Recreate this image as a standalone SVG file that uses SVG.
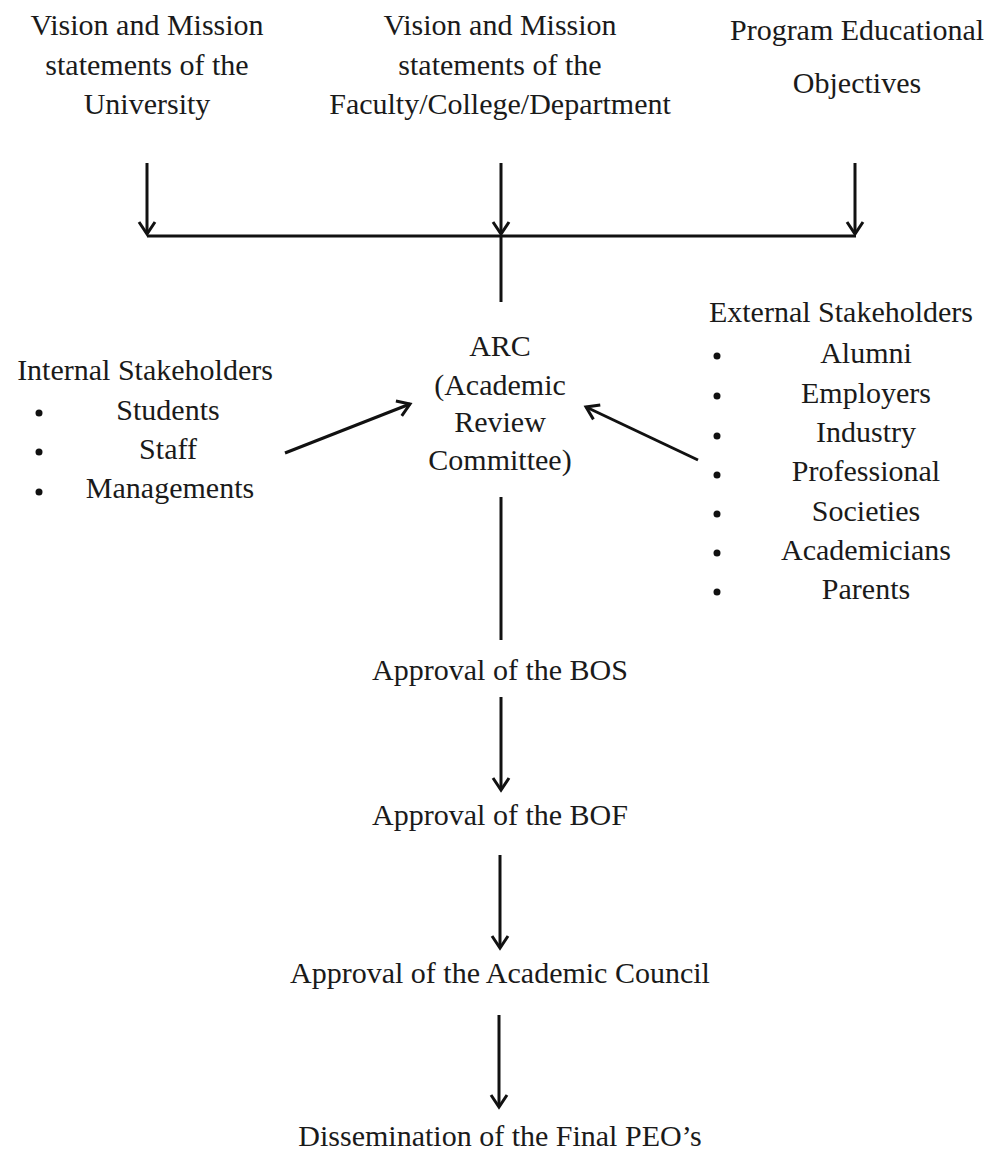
<svg xmlns="http://www.w3.org/2000/svg" width="993" height="1156" viewBox="0 0 993 1156">
<style>
text{font-family:"Liberation Serif","Times New Roman",serif;font-size:30px;fill:#1a1a1a;text-anchor:middle}
.c{stroke:#111;stroke-width:3;fill:none}
.b{fill:#111}
</style>
<defs>
<marker id="ah" viewBox="0 0 20 20" refX="17" refY="10" markerWidth="20" markerHeight="20" markerUnits="userSpaceOnUse" orient="auto">
<path d="M5,2 L17,10 L5,18" fill="none" stroke="#111" stroke-width="3"/>
</marker>
</defs>
<rect width="993" height="1156" fill="#fff"/>
<g id="n-univ">
<text x="147" y="35">Vision and Mission</text>
<text x="147" y="75">statements of the</text>
<text x="147" y="114">University</text>
</g>
<g id="n-faculty">
<text x="500" y="35">Vision and Mission</text>
<text x="500" y="75">statements of the</text>
<text x="500" y="114">Faculty/College/Department</text>
</g>
<g id="n-peo">
<text x="857" y="40">Program Educational</text>
<text x="857" y="93">Objectives</text>
</g>
<g id="n-arc">
<text x="500" y="356">ARC</text>
<text x="500" y="395">(Academic</text>
<text x="500" y="432">Review</text>
<text x="500" y="470">Committee)</text>
</g>
<g id="n-internal">
<text x="145" y="380">Internal Stakeholders</text>
<circle class="b" cx="39" cy="413" r="3.5"/>
<text x="168" y="420">Students</text>
<circle class="b" cx="39" cy="452" r="3.5"/>
<text x="168" y="459">Staff</text>
<circle class="b" cx="39" cy="492" r="3.5"/>
<text x="170" y="498">Managements</text>
</g>
<g id="n-external">
<text x="841" y="322">External Stakeholders</text>
<circle class="b" cx="717" cy="356" r="3.5"/><text x="866" y="363">Alumni</text>
<circle class="b" cx="717" cy="396" r="3.5"/><text x="866" y="403">Employers</text>
<circle class="b" cx="717" cy="436" r="3.5"/><text x="866" y="442">Industry</text>
<circle class="b" cx="717" cy="475" r="3.5"/><text x="866" y="481">Professional</text>
<circle class="b" cx="717" cy="514" r="3.5"/><text x="866" y="521">Societies</text>
<circle class="b" cx="717" cy="553" r="3.5"/><text x="866" y="560">Academicians</text>
<circle class="b" cx="717" cy="592" r="3.5"/><text x="866" y="599">Parents</text>
</g>
<g id="n-bos"><text x="500" y="680">Approval of the BOS</text></g>
<g id="n-bof"><text x="500" y="825">Approval of the BOF</text></g>
<g id="n-council"><text x="500" y="983">Approval of the Academic Council</text></g>
<g id="n-dissem"><text x="500" y="1146">Dissemination of the Final PEO’s</text></g>
<g id="connectors">
<line class="c" x1="147" y1="163" x2="147" y2="234" marker-end="url(#ah)"/>
<line class="c" x1="501" y1="163" x2="501" y2="234" marker-end="url(#ah)"/>
<line class="c" x1="855" y1="163" x2="855" y2="234" marker-end="url(#ah)"/>
<line class="c" x1="147" y1="236" x2="856" y2="236"/>
<line class="c" x1="501" y1="236" x2="501" y2="302"/>
<line class="c" x1="285" y1="453" x2="410" y2="404" marker-end="url(#ah)"/>
<line class="c" x1="698" y1="460" x2="586" y2="407" marker-end="url(#ah)"/>
<line class="c" x1="501" y1="497" x2="501" y2="640"/>
<line class="c" x1="501" y1="697" x2="501" y2="790" marker-end="url(#ah)"/>
<line class="c" x1="500" y1="855" x2="500" y2="948" marker-end="url(#ah)"/>
<line class="c" x1="499" y1="1015" x2="499" y2="1107" marker-end="url(#ah)"/>
</g>
</svg>
